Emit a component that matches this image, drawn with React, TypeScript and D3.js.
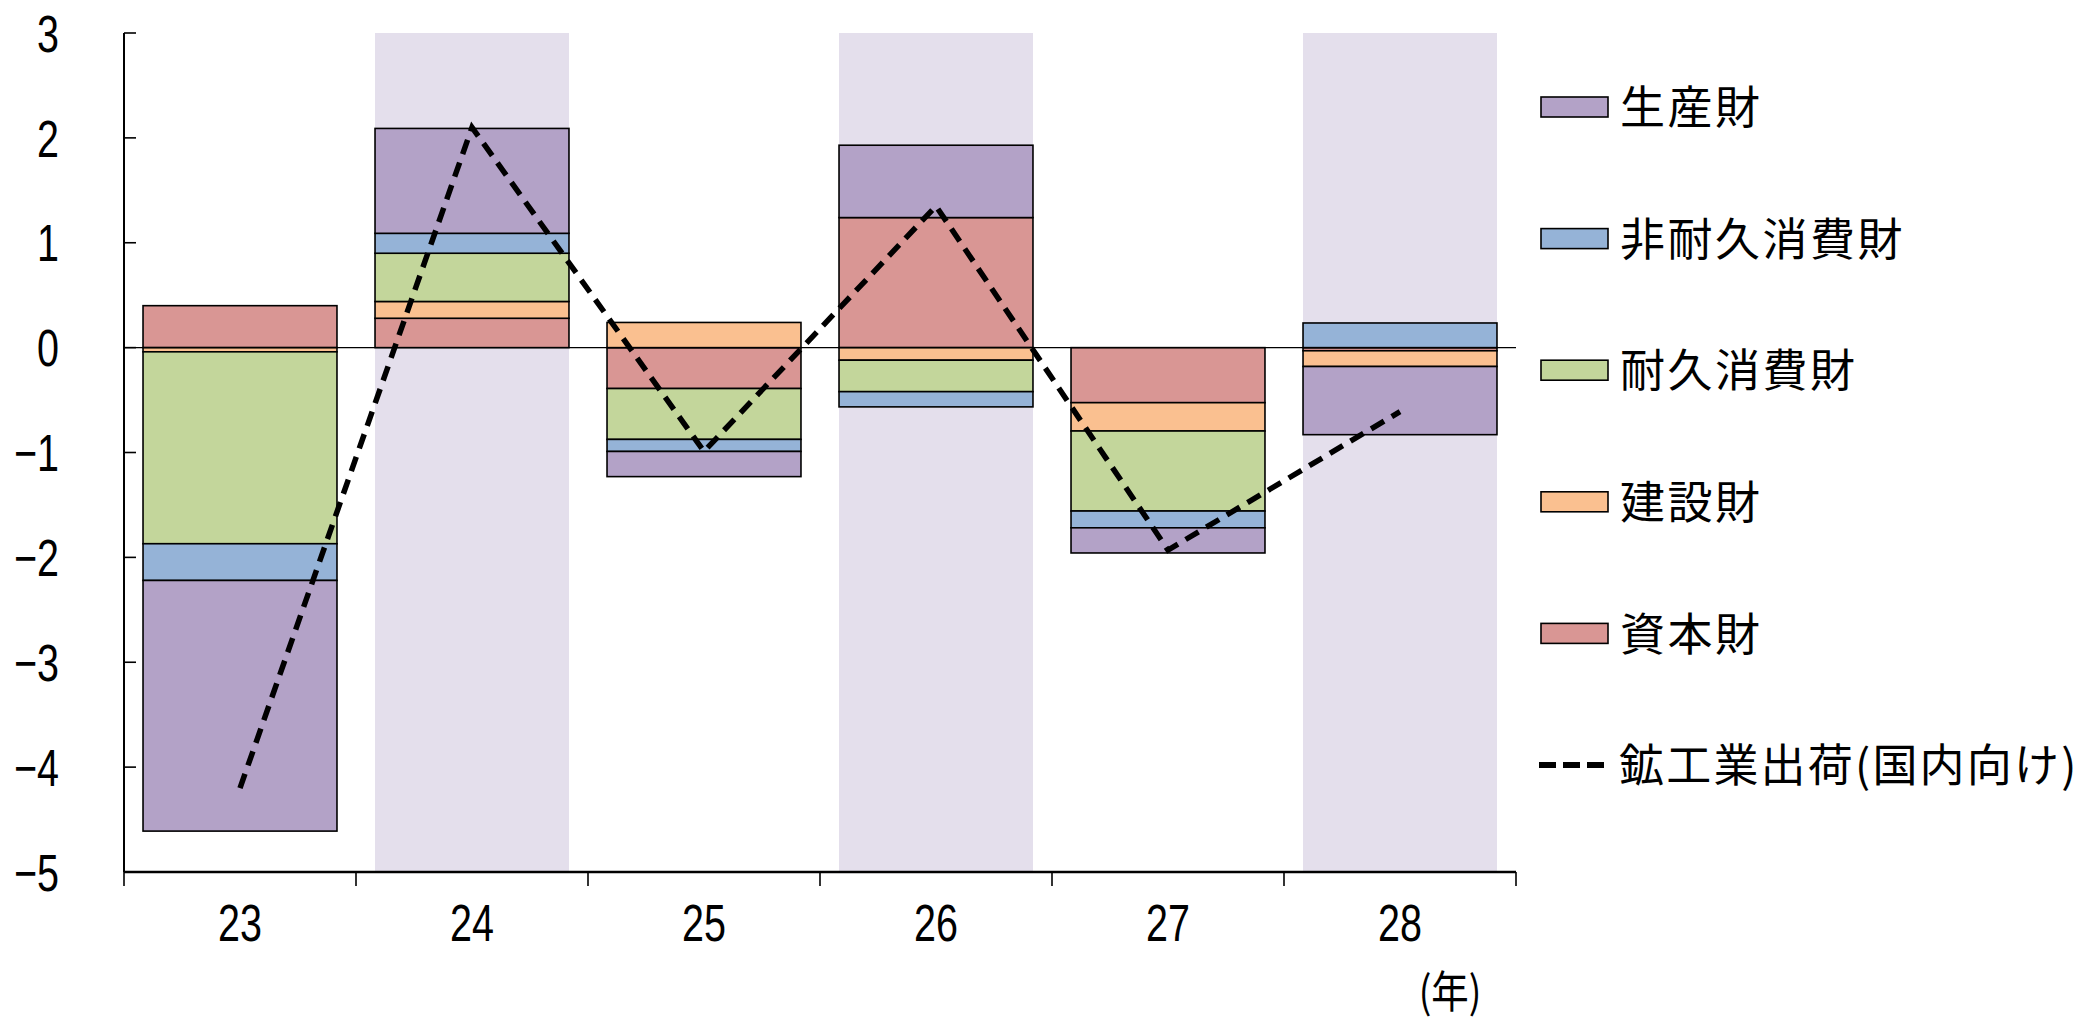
import React from "react";
import * as d3 from "d3";

// Contribution of each goods type to the annual change in domestic shipments (% points)
const years = ["23", "24", "25", "26", "27", "28"];
const seriesNames = ["資本財", "建設財", "耐久消費財", "非耐久消費財", "生産財"];
const capitalGoods = [0.4, 0.28, -0.39, 1.24, -0.525, -0.03];
const constructionGoods = [-0.04, 0.16, 0.24, -0.12, -0.27, -0.15];
const durableGoods = [-1.83, 0.46, -0.485, -0.3, -0.763, 0];
const nondurableGoods = [-0.35, 0.19, -0.115, -0.145, -0.16, 0.235];
const producerGoods = [-2.39, 1.0, -0.24, 0.69, -0.24, -0.65];
const totalShipments = [-4.2, 2.1, -0.99, 1.35, -1.93, -0.61];
const yTicks = [3, 2, 1, 0, -1, -2, -3, -4, -5];
const shadedYears = ["24", "26", "28"];
const seriesColors = ["#D99694", "#FAC090", "#C3D69B", "#95B3D7", "#B3A2C7"];
const legendOrder = ["生産財", "非耐久消費財", "耐久消費財", "建設財", "資本財"];
const lineLabel = "鉱工業出荷(国内向け)";
const xUnit = "(年)";

const W = 2091;
const H = 1024;
const left = 124;
const right = 1516;
const top = 33;
const bottom = 872;

const numFont = "'Liberation Sans Narrow', 'Arial Narrow', 'Liberation Sans', sans-serif";
const jpFont = "'Noto Sans CJK JP', 'Noto Sans', sans-serif";
const narrow = 0.76;

export default function App() {
  const x = d3
    .scaleBand<string>()
    .domain(years)
    .range([left, right])
    .paddingInner(0.164)
    .paddingOuter(0.082);
  const y = d3.scaleLinear().domain([-5, 3]).range([bottom, top]);

  const valuesBySeries = [capitalGoods, constructionGoods, durableGoods, nondurableGoods, producerGoods];
  const rows = years.map((yr, i) => {
    const r: Record<string, any> = { year: yr };
    seriesNames.forEach((s, k) => (r[s] = valuesBySeries[k][i]));
    return r;
  });
  const stacked = d3
    .stack<Record<string, any>>()
    .keys(seriesNames)
    .order(d3.stackOrderNone)
    .offset(d3.stackOffsetDiverging)(rows);

  const categoryStep = (right - left) / years.length;
  const boundaries = d3.range(years.length + 1).map((i) => left + i * categoryStep);

  const line = d3
    .line<number>()
    .x((_, i) => (x(years[i]) as number) + x.bandwidth() / 2)
    .y((d) => y(d));

  const legendTop = 107;
  const legendStep = 131.6;

  return (
    <svg
      width={W}
      height={H}
      viewBox={`0 0 ${W} ${H}`}
      style={{ position: "absolute", left: 0, top: 0, background: "#fff" }}
    >
      {/* shaded year bands */}
      {shadedYears.map((yr) => (
        <rect
          key={"band" + yr}
          x={x(yr)}
          y={top}
          width={x.bandwidth()}
          height={bottom - top}
          fill="#E4DFEC"
        />
      ))}

      {/* stacked bars */}
      {stacked.map((layer, k) => (
        <g key={layer.key} fill={seriesColors[k]}>
          {layer.map((d, i) => {
            const y0 = y(d[0]);
            const y1 = y(d[1]);
            if (Math.abs(d[1] - d[0]) < 1e-9) return null;
            return (
              <rect
                key={i}
                x={x(years[i])}
                y={Math.min(y0, y1)}
                width={x.bandwidth()}
                height={Math.abs(y1 - y0)}
                stroke="#000"
                strokeWidth={1.6}
              />
            );
          })}
        </g>
      ))}

      {/* zero line */}
      <line x1={left} x2={right} y1={y(0)} y2={y(0)} stroke="#000" strokeWidth={1.4} />

      {/* total shipments */}
      <path
        d={line(totalShipments) || ""}
        fill="none"
        stroke="#000"
        strokeWidth={5.5}
        strokeDasharray="15,9"
      />

      {/* y axis */}
      <line x1={left} x2={left} y1={top} y2={bottom} stroke="#000" strokeWidth={2} />
      {yTicks.map((t) => (
        <g key={"yt" + t}>
          <line x1={left} x2={left + 12} y1={y(t)} y2={y(t)} stroke="#000" strokeWidth={1.6} />
          <text
            transform={`translate(59,${y(t) + 0.36 * 52}) scale(${narrow},1)`}
            textAnchor="end"
            fontFamily={numFont}
            fontSize={52}
            fill="#000"
          >
            {t < 0 ? "\u2212" + Math.abs(t) : String(t)}
          </text>
        </g>
      ))}

      {/* x axis */}
      <line x1={left} x2={right} y1={bottom} y2={bottom} stroke="#000" strokeWidth={2.4} />
      {boundaries.map((b, i) => (
        <line key={"xt" + i} x1={b} x2={b} y1={bottom} y2={bottom + 14} stroke="#000" strokeWidth={1.6} />
      ))}
      {years.map((yr) => (
        <text
          key={"xl" + yr}
          transform={`translate(${(x(yr) as number) + x.bandwidth() / 2},941) scale(${narrow},1)`}
          textAnchor="middle"
          fontFamily={numFont}
          fontSize={52}
          fill="#000"
        >
          {yr}
        </text>
      ))}
      <text
        transform={`translate(1450,1008) scale(0.85,1)`}
        textAnchor="middle"
        fontFamily={jpFont}
        fontSize={44}
        fill="#000"
      >
        {xUnit}
      </text>

      {/* legend */}
      {legendOrder.map((name, i) => {
        const cy = legendTop + i * legendStep;
        const k = seriesNames.indexOf(name);
        return (
          <g key={"lg" + name}>
            <rect x={1541} y={cy - 10} width={67} height={20} fill={seriesColors[k]} stroke="#000" strokeWidth={1.6} />
            <text
              x={1620}
              y={cy + 0.38 * 45}
              fontFamily={jpFont}
              fontSize={45}
              letterSpacing={2.5}
              fill="#000"
            >
              {name}
            </text>
          </g>
        );
      })}
      {(() => {
        const cy = legendTop + legendOrder.length * legendStep;
        return (
          <g>
            <line
              x1={1539}
              x2={1605}
              y1={cy}
              y2={cy}
              stroke="#000"
              strokeWidth={6}
              strokeDasharray="17,7"
            />
            <text
              x={1619}
              y={cy + 0.38 * 45}
              fontFamily={jpFont}
              fontSize={45}
              letterSpacing={2.2}
              fill="#000"
            >
              {lineLabel}
            </text>
          </g>
        );
      })()}
    </svg>
  );
}
